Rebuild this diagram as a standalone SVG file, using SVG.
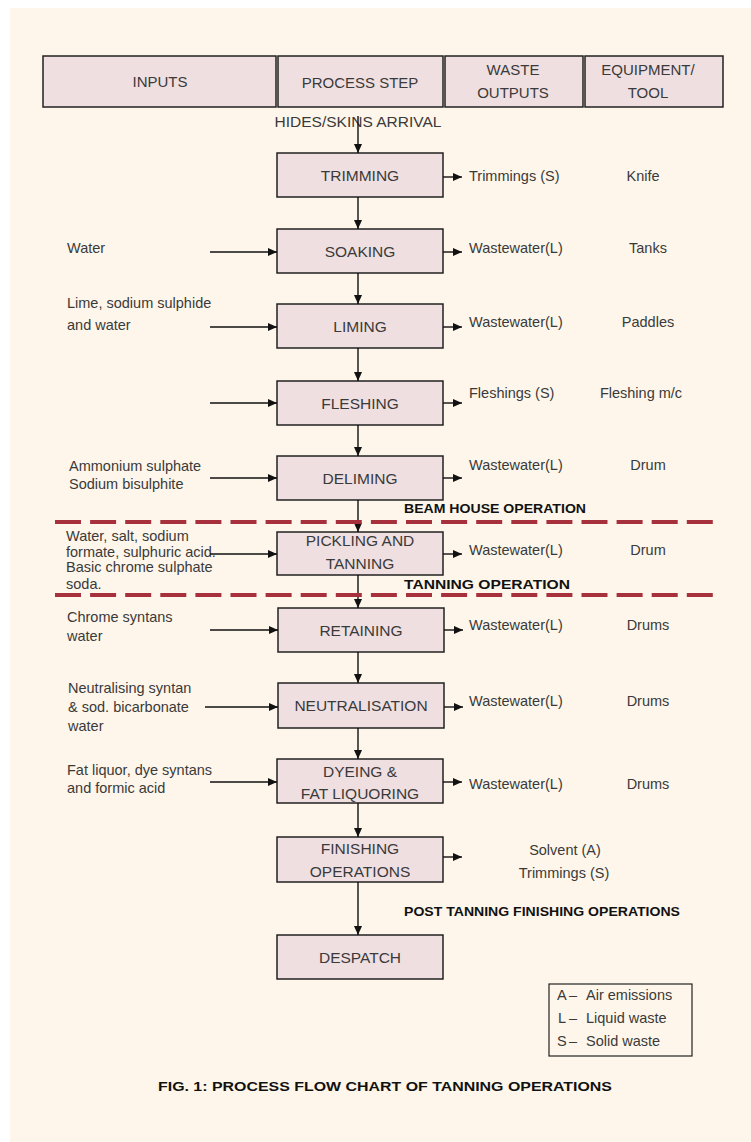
<svg xmlns="http://www.w3.org/2000/svg" width="751" height="1142" viewBox="0 0 751 1142">
<defs>
<marker id="ah" markerUnits="userSpaceOnUse" markerWidth="9" markerHeight="8" refX="9" refY="4" orient="auto">
<path d="M0,0 L9,4 L0,8 z" fill="#111"/>
</marker>
<style>
.bx{fill:#EFDFE1;stroke:#222;stroke-width:1.5}
.t{font-family:"Liberation Sans",Arial,sans-serif;font-size:14.5px;fill:#3a3a3a}
.bt{font-family:"Liberation Sans",Arial,sans-serif;font-size:15.5px;fill:#3a3a3a;text-anchor:middle}
.ht{font-family:"Liberation Sans",Arial,sans-serif;font-size:15px;fill:#3a3a3a;text-anchor:middle}
.bold{font-family:"Liberation Sans",Arial,sans-serif;font-size:13.5px;font-weight:bold;fill:#111}
.eq{text-anchor:middle}
.c{stroke:#111;stroke-width:1.4;fill:none;marker-end:url(#ah)}
.dash{stroke:#A6313D;stroke-width:4;stroke-dasharray:26 9.1;fill:none}
</style>
</defs>
<rect x="0" y="0" width="751" height="1142" fill="#ffffff"/>
<rect x="10" y="8" width="741" height="1134" fill="#FEF6EA"/>

<g id="header">
<rect class="bx" x="43" y="56" width="233" height="51"/>
<rect class="bx" x="278" y="56" width="165" height="51"/>
<rect class="bx" x="445" y="56" width="138" height="51"/>
<rect class="bx" x="585" y="56" width="138" height="51"/>
<text class="ht" x="160" y="87">INPUTS</text>
<text class="ht" x="360" y="88">PROCESS STEP</text>
<text class="ht" x="513" y="75">WASTE</text>
<text class="ht" x="513" y="98">OUTPUTS</text>
<text class="ht" x="648" y="75">EQUIPMENT/</text>
<text class="ht" x="648" y="98">TOOL</text>
</g>

<g id="start">
<text class="bt" x="358" y="127" font-size="14.5">HIDES/SKINS ARRIVAL</text>
</g>

<g id="n-trimming"><rect class="bx" x="277" y="153" width="166" height="44"/><text class="bt" x="360" y="181">TRIMMING</text></g>
<g id="n-soaking"><rect class="bx" x="277" y="229" width="166" height="44"/><text class="bt" x="360" y="257">SOAKING</text></g>
<g id="n-liming"><rect class="bx" x="277" y="304" width="166" height="44"/><text class="bt" x="360" y="332">LIMING</text></g>
<g id="n-fleshing"><rect class="bx" x="277" y="381" width="166" height="44"/><text class="bt" x="360" y="409">FLESHING</text></g>
<g id="n-deliming"><rect class="bx" x="277" y="456" width="166" height="44"/><text class="bt" x="360" y="484">DELIMING</text></g>
<g id="n-pickling"><rect class="bx" x="277" y="532" width="166" height="43"/><text class="bt" x="360" y="546">PICKLING AND</text><text class="bt" x="360" y="569">TANNING</text></g>
<g id="n-retaining"><rect class="bx" x="278" y="608" width="166" height="44"/><text class="bt" x="361" y="636">RETAINING</text></g>
<g id="n-neutralisation"><rect class="bx" x="278" y="683" width="166" height="45"/><text class="bt" x="361" y="711">NEUTRALISATION</text></g>
<g id="n-dyeing"><rect class="bx" x="277" y="759" width="166" height="44"/><text class="bt" x="360" y="777">DYEING &amp;</text><text class="bt" x="360" y="799">FAT LIQUORING</text></g>
<g id="n-finishing"><rect class="bx" x="277" y="837" width="166" height="45"/><text class="bt" x="360" y="854">FINISHING</text><text class="bt" x="360" y="877">OPERATIONS</text></g>
<g id="n-despatch"><rect class="bx" x="277" y="935" width="166" height="44"/><text class="bt" x="360" y="963">DESPATCH</text></g>

<g id="inputs">
<text class="t" x="67" y="253">Water</text>
<text class="t" x="67" y="308">Lime, sodium sulphide</text>
<text class="t" x="67" y="330">and water</text>
<text class="t" x="69" y="471">Ammonium sulphate</text>
<text class="t" x="69" y="489">Sodium bisulphite</text>
<text class="t" x="66" y="541">Water, salt, sodium</text>
<text class="t" x="66" y="557">formate, sulphuric acid.</text>
<text class="t" x="66" y="572">Basic chrome sulphate</text>
<text class="t" x="66" y="589">soda.</text>
<text class="t" x="67" y="622">Chrome syntans</text>
<text class="t" x="67" y="641">water</text>
<text class="t" x="68" y="693">Neutralising syntan</text>
<text class="t" x="68" y="712">&amp; sod. bicarbonate</text>
<text class="t" x="68" y="731">water</text>
<text class="t" x="67" y="775">Fat liquor, dye syntans</text>
<text class="t" x="67" y="793">and formic acid</text>
</g>

<g id="waste">
<text class="t" x="469" y="181">Trimmings (S)</text>
<text class="t" x="469" y="253">Wastewater(L)</text>
<text class="t" x="469" y="327">Wastewater(L)</text>
<text class="t" x="469" y="398">Fleshings (S)</text>
<text class="t" x="469" y="470">Wastewater(L)</text>
<text class="t" x="469" y="555">Wastewater(L)</text>
<text class="t" x="469" y="630">Wastewater(L)</text>
<text class="t" x="469" y="706">Wastewater(L)</text>
<text class="t" x="469" y="789">Wastewater(L)</text>
<text class="t eq" x="565" y="855">Solvent (A)</text>
<text class="t eq" x="564" y="878">Trimmings (S)</text>
</g>

<g id="equipment">
<text class="t eq" x="643" y="181">Knife</text>
<text class="t eq" x="648" y="253">Tanks</text>
<text class="t eq" x="648" y="327">Paddles</text>
<text class="t eq" x="641" y="398">Fleshing m/c</text>
<text class="t eq" x="648" y="470">Drum</text>
<text class="t eq" x="648" y="555">Drum</text>
<text class="t eq" x="648" y="630">Drums</text>
<text class="t eq" x="648" y="706">Drums</text>
<text class="t eq" x="648" y="789">Drums</text>
</g>

<g id="connectors">
<line class="c" x1="358" y1="116" x2="358" y2="153"/>
<line class="c" x1="358" y1="197" x2="358" y2="229"/>
<line class="c" x1="358" y1="273" x2="358" y2="304"/>
<line class="c" x1="358" y1="348" x2="358" y2="381"/>
<line class="c" x1="358" y1="425" x2="358" y2="456"/>
<line class="c" x1="358" y1="500" x2="358" y2="532"/>
<line class="c" x1="358" y1="575" x2="358" y2="608"/>
<line class="c" x1="358" y1="652" x2="358" y2="683"/>
<line class="c" x1="358" y1="728" x2="358" y2="759"/>
<line class="c" x1="358" y1="803" x2="358" y2="837"/>
<line class="c" x1="358" y1="882" x2="358" y2="935"/>
<line class="c" x1="210" y1="252" x2="277" y2="252"/>
<line class="c" x1="210" y1="327" x2="277" y2="327"/>
<line class="c" x1="210" y1="403" x2="277" y2="403"/>
<line class="c" x1="210" y1="478" x2="277" y2="478"/>
<line class="c" x1="210" y1="554" x2="277" y2="554"/>
<line class="c" x1="210" y1="630" x2="278" y2="630"/>
<line class="c" x1="205" y1="707" x2="278" y2="707"/>
<line class="c" x1="210" y1="782" x2="277" y2="782"/>
<line class="c" x1="443" y1="177" x2="462" y2="177"/>
<line class="c" x1="443" y1="252" x2="462" y2="252"/>
<line class="c" x1="443" y1="327" x2="462" y2="327"/>
<line class="c" x1="443" y1="403" x2="462" y2="403"/>
<line class="c" x1="443" y1="478" x2="462" y2="478"/>
<line class="c" x1="443" y1="554" x2="462" y2="554"/>
<line class="c" x1="444" y1="630" x2="463" y2="630"/>
<line class="c" x1="444" y1="707" x2="463" y2="707"/>
<line class="c" x1="443" y1="782" x2="462" y2="782"/>
<line class="c" x1="443" y1="857" x2="462" y2="857"/>
</g>

<g id="sections">
<line class="dash" x1="55" y1="522" x2="713" y2="522"/>
<line class="dash" x1="55" y1="595" x2="713" y2="595"/>
<text class="bold" x="404" y="513" textLength="182" lengthAdjust="spacingAndGlyphs">BEAM HOUSE OPERATION</text>
<text class="bold" x="404" y="589" textLength="166" lengthAdjust="spacingAndGlyphs">TANNING OPERATION</text>
<text class="bold" x="404" y="916" textLength="276" lengthAdjust="spacingAndGlyphs">POST TANNING FINISHING OPERATIONS</text>
</g>

<g id="legend">
<rect x="549" y="984" width="143" height="72" fill="none" stroke="#222" stroke-width="1.2"/>
<text class="t" y="1000"><tspan x="557">A</tspan><tspan x="569">–</tspan><tspan x="586">Air emissions</tspan></text>
<text class="t" y="1023"><tspan x="558">L</tspan><tspan x="569">–</tspan><tspan x="586">Liquid waste</tspan></text>
<text class="t" y="1046"><tspan x="557">S</tspan><tspan x="569">–</tspan><tspan x="586">Solid waste</tspan></text>
</g>

<g id="caption">
<text class="bold" x="158" y="1091" font-size="14" font-weight="bold" textLength="454" lengthAdjust="spacingAndGlyphs">FIG. 1: PROCESS FLOW CHART OF TANNING OPERATIONS</text>
</g>
</svg>
